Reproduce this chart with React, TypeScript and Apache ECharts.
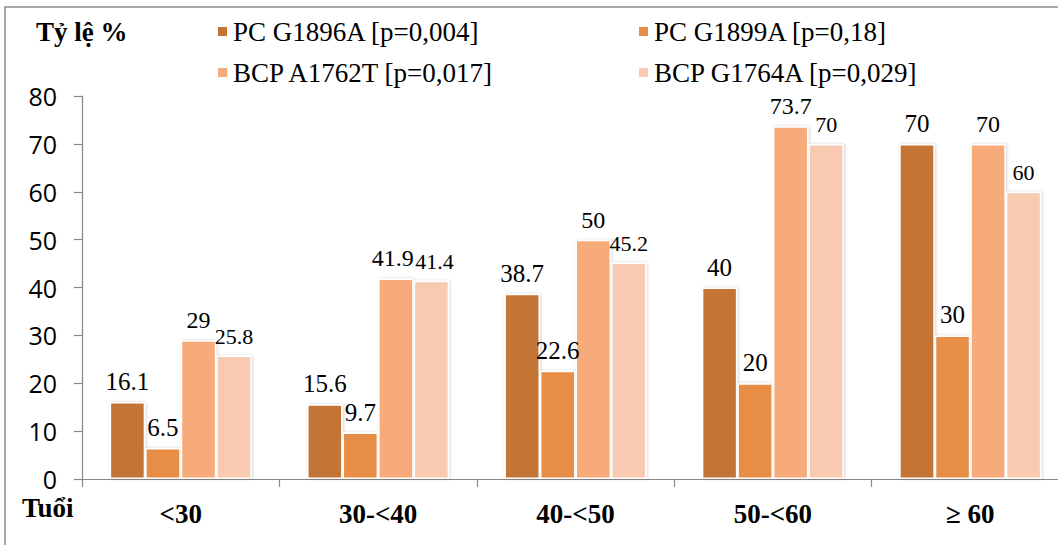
import React, { useEffect, useRef } from "react";
import * as echarts from "echarts";

const categories = ["<30", "30-<40", "40-<50", "50-<60", "≥ 60"];
const seriesNames = [
  "PC G1896A [p=0,004]",
  "PC G1899A [p=0,18]",
  "BCP A1762T [p=0,017]",
  "BCP G1764A [p=0,029]",
];
const pcG1896A = [16.1, 15.6, 38.7, 40, 70];
const pcG1899A = [6.5, 9.7, 22.6, 20, 30];
const bcpA1762T = [29, 41.9, 50, 73.7, 70];
const bcpG1764A = [25.8, 41.4, 45.2, 70, 60];
const seriesValues = [pcG1896A, pcG1899A, bcpA1762T, bcpG1764A];
const colors = ["#C47535", "#E88D45", "#F7AA7A", "#F8CAB2"];
const labelSizes = [25, 25, 24, 22];
const yAxisTitle = "Tỷ lệ %";
const xAxisTitle = "Tuổi";

const SERIF = "'Liberation Serif', 'Times New Roman', serif";

export default function App() {
  const ref = useRef<HTMLDivElement>(null);
  useEffect(() => {
    document.body.style.margin = "0";
    document.body.style.overflow = "hidden";
    const chart = echarts.init(ref.current!, undefined, { renderer: "svg" });
    const legendPos = [
      { left: 216, top: 18 },
      { left: 637, top: 18 },
      { left: 216, top: 59 },
      { left: 637, top: 59 },
    ];
    // small horizontal nudges so touching labels (41.9 / 41.4) do not collide
    const labelNudge = (si: number, ci: number) => {
      if (ci === 1 && si === 2) return [-3, 0];
      if (ci === 1 && si === 3) return [3, 0];
      return [0, 0];
    };
    chart.setOption({
      animation: false,
      backgroundColor: "#fff",
      legend: seriesNames.map((n, i) => ({
        data: [n],
        left: legendPos[i].left,
        top: legendPos[i].top,
        itemWidth: 11,
        itemHeight: 11,
        icon: "rect",
        padding: 0,
        textStyle: { fontFamily: SERIF, fontSize: 27, color: "#000" },
      })),
      grid: { left: 82, top: 96, width: 987, height: 383 },
      xAxis: {
        type: "category",
        data: categories,
        axisLine: { lineStyle: { color: "#888", width: 1.2 } },
        axisTick: { show: true, length: 8, lineStyle: { color: "#888", width: 1.2 } },
        axisLabel: {
          margin: 21,
          fontFamily: SERIF,
          fontWeight: "bold",
          fontSize: 27,
          color: "#000",
        },
      },
      yAxis: {
        type: "value",
        min: 0,
        max: 80,
        interval: 10,
        splitLine: { show: false },
        axisLine: { show: true, lineStyle: { color: "#888", width: 1.2 } },
        axisTick: { show: true, length: 8, lineStyle: { color: "#888", width: 1.2 } },
        axisLabel: {
          margin: 25,
          fontFamily: "'Open Sans', sans-serif",
          fontSize: 25,
          lineHeight: 20,
          color: "#000",
        },
      },
      series: seriesValues.map((vals, i) => ({
        type: "bar",
        name: seriesNames[i],
        data: vals.map((v, ci) => ({
          value: v,
          label: { offset: labelNudge(i, ci) },
        })),
        barGap: "0%",
        barCategoryGap: "28%",
        itemStyle: {
          color: colors[i],
          borderColor: "#fff",
          borderWidth: 1.5,
          shadowColor: "rgba(0,0,0,0.18)",
          shadowBlur: 3,
          shadowOffsetX: 1,
          shadowOffsetY: 0,
        },
        label: {
          show: true,
          position: "top",
          distance: 8,
          fontFamily: SERIF,
          fontSize: labelSizes[i],
          color: "#000",
        },
      })),
      graphic: [
        {
          type: "rect",
          shape: { x: 5, y: 7, width: 1200, height: 700 },
          style: { fill: "none", stroke: "#8c8c8c", lineWidth: 1.5 },
          silent: true,
        },
        {
          type: "text",
          x: 36,
          y: 32,
          style: {
            text: yAxisTitle,
            fontFamily: SERIF,
            fontWeight: "bold",
            fontSize: 27,
            fill: "#000",
            verticalAlign: "middle",
            align: "left",
          },
        },
        {
          type: "text",
          x: 22,
          y: 508,
          style: {
            text: xAxisTitle,
            fontFamily: SERIF,
            fontWeight: "bold",
            fontSize: 27,
            lineHeight: 20,
            fill: "#000",
            verticalAlign: "middle",
            align: "left",
          },
        },
      ],
    });
    return () => chart.dispose();
  }, []);
  return <div ref={ref} style={{ width: 1090, height: 545 }} />;
}
